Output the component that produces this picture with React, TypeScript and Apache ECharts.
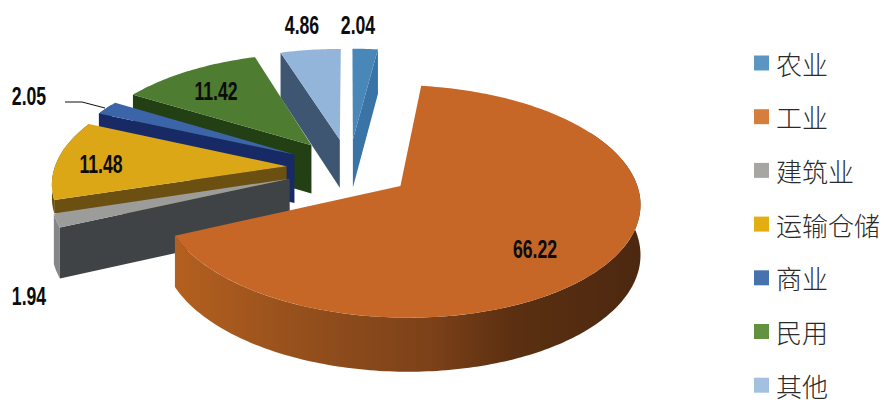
import React, { useEffect, useRef } from "react";
import * as echarts from "echarts";

// Energy use by sector, percent
const categories = ["农业", "工业", "建筑业", "运输仓储", "商业", "民用", "其他"];
const shares = [2.04, 66.22, 1.94, 11.48, 2.05, 11.42, 4.86];
const legendColors = ["#5b96c2", "#d67f3c", "#a8a6a2", "#e2ae12", "#4872ae", "#62913f", "#a3c0de"];
const topColors = ["#4a87b9", "#c66728", "#9c9c9a", "#dca716", "#3c64a9", "#4e7c30", "#94b5da"];
const cutColors = ["#3a73a6", "#8a481c", "#404346", "#6b5012", "#182a66", "#233f14", "#3f5672"];
const wallColors = ["#3a73a6", "#8a481c", "#85868a", "#6b5012", "#182a66", "#233f14", "#3f5672"];
// Painted back to front so nearer wedges cover the walls behind them
const paintOrder = [6, 0, 5, 4, 3, 2, 1];
const labelCentres: number[][] = [[358, 25], [535, 249], [29, 296], [101, 164], [29, 96], [216, 91], [302, 25]];

// Projection of the tilted disc: unit-radius plan coordinates, Y toward the viewer
const CX = 349, CY = 168;
const RX = 232, RY = 109.5, PERSPECTIVE = 0.13;
const BURST = 0.27;
const DEPTH = 49;
// The 运输仓储 rim sits behind 建筑业, so only a sliver of its height shows
const RIM_SLIVER = 3;
const SLIVER_HEIGHT = 13;

const rad = (d: number) => (d * Math.PI) / 180;
const total = shares.reduce((a, b) => a + b, 0);
const starts: number[] = [];
shares.reduce((acc, v, i) => {
  starts[i] = (acc / total) * 360;
  return acc + v;
}, 0);

function project(X: number, Y: number) {
  const s = 1 / (1 - PERSPECTIVE * Y);
  return { x: CX + RX * X * s, y: CY + RY * Y * s, drop: DEPTH * Math.pow(s, 0.6) };
}

function polygon(points: number[][], fill: any) {
  return { type: "polygon", shape: { points }, style: { fill, stroke: "none" } };
}

function drawWedge(index: number, value: number) {
  const t1 = starts[index];
  const t2 = t1 + (value / total) * 360;
  const mid = (t1 + t2) / 2;
  const ox = BURST * Math.sin(rad(mid));
  const oy = -BURST * Math.cos(rad(mid));
  const apex = project(ox, oy);
  const rim = (t: number) => project(ox + Math.sin(rad(t)), oy - Math.cos(rad(t)));
  const rimDrop = (d: number) => (index === RIM_SLIVER ? SLIVER_HEIGHT : d);
  const children: any[] = [];

  // Radial cut faces that turn toward the viewer
  const cut = (t: number) => {
    const p = rim(t);
    children.push(
      polygon(
        [[apex.x, apex.y], [p.x, p.y], [p.x, p.y + rimDrop(p.drop)], [apex.x, apex.y + apex.drop]],
        cutColors[index]
      )
    );
  };
  if (Math.sin(rad(t2)) > 0.01) cut(t2);
  if (Math.sin(rad(t1)) < -0.01) cut(t1);

  // Outer wall, front half of the rim only
  const from = Math.max(t1, 60);
  const to = Math.min(t2, 300);
  if (to > from) {
    const upper: number[][] = [];
    const lower: number[][] = [];
    for (let t = from; t < to; t += 1) {
      const p = rim(t);
      upper.push([p.x, p.y]);
      lower.unshift([p.x, p.y + rimDrop(p.drop)]);
    }
    const end = rim(to);
    upper.push([end.x, end.y]);
    lower.unshift([end.x, end.y + rimDrop(end.drop)]);
    const fill =
      index === 1
        ? new echarts.graphic.LinearGradient(0, 0, 1, 0, [
            { offset: 0, color: "#b4601f" },
            { offset: 0.3, color: "#924e1c" },
            { offset: 0.55, color: "#7c4119" },
            { offset: 0.72, color: "#5c3011" },
            { offset: 1, color: "#4c2810" },
          ])
        : wallColors[index];
    children.push(polygon(upper.concat(lower), fill));
  }

  // Top face
  const top: number[][] = [[apex.x, apex.y]];
  for (let t = t1; t < t2; t += 1) {
    const p = rim(t);
    top.push([p.x, p.y]);
  }
  const last = rim(t2);
  top.push([last.x, last.y]);
  children.push(polygon(top, topColors[index]));

  // 商业 is too thin to hold its number, so it gets a leader line
  if (index === 4) {
    children.push({
      type: "polyline",
      shape: { points: [[65, 102], [82, 102], [105, 108]] },
      style: { stroke: "#111", lineWidth: 1, fill: "none" },
    });
  }

  const [lx, ly] = labelCentres[index];
  children.push({
    type: "text",
    x: lx,
    y: ly,
    scaleX: 0.68,
    style: {
      text: String(value),
      x: 0,
      y: 0,
      align: "center",
      verticalAlign: "middle",
      fill: "#0c0c0c",
      fontFamily: '"Liberation Sans", sans-serif',
      fontSize: 26,
      fontWeight: "bold",
    },
  });
  return { type: "group", children };
}

export default function App() {
  const ref = useRef<HTMLDivElement>(null);
  useEffect(() => {
    const chart = echarts.init(ref.current!, undefined, { renderer: "svg" });
    chart.setOption({
      animation: false,
      backgroundColor: "#ffffff",
      legend: {
        orient: "vertical",
        left: 754,
        top: 50,
        height: 360,
        padding: 0,
        data: categories,
        icon: "rect",
        itemWidth: 15,
        itemHeight: 15,
        itemGap: 27.7,
        selectedMode: false,
        textStyle: {
          fontFamily: '"Noto Sans CJK SC", sans-serif',
          fontSize: 26,
          fontWeight: 300,
          color: "#2a2a2a",
          padding: [0, 0, 0, 2],
        },
      },
      series: paintOrder.map((i) => ({
        type: "custom",
        name: categories[i],
        coordinateSystem: "none",
        silent: true,
        itemStyle: { color: legendColors[i] },
        data: [[shares[i]]],
        renderItem: (_: any, api: any) => drawWedge(i, api.value(0)),
      })),
    });
    return () => chart.dispose();
  }, []);
  return <div ref={ref} style={{ position: "absolute", left: 0, top: 0, width: 884, height: 400 }} />;
}
